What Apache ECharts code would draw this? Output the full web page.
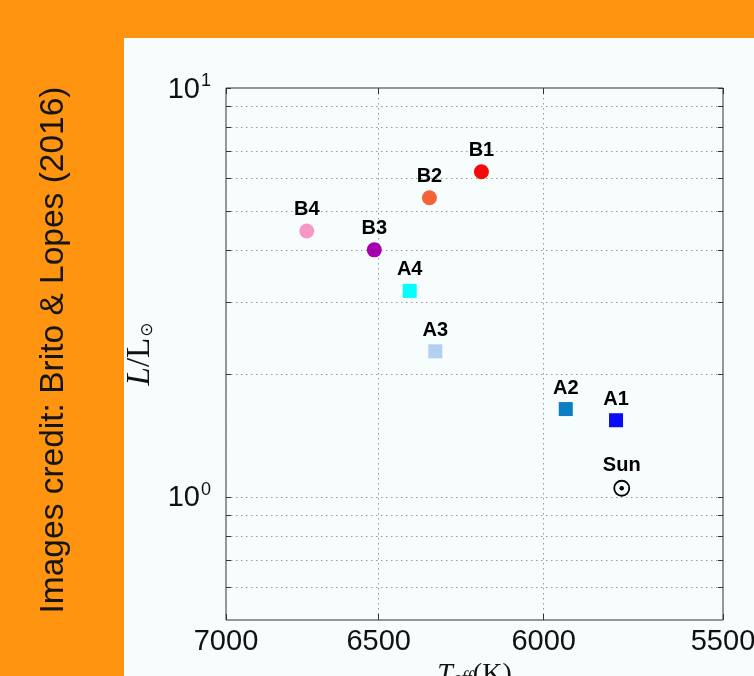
<!DOCTYPE html>
<html>
<head>
<meta charset="utf-8">
<script src="https://cdn.jsdelivr.net/npm/echarts@6/dist/echarts.min.js"></script>
<style>
  html, body { margin: 0; padding: 0; background: #fe9410; }
  #chart { width: 754px; height: 676px; }
</style>
</head>
<body>
<div id="chart"></div>
<script>
// Stars in the HR-diagram: name, effective temperature (K), luminosity (L/Lsun)
const starNames  = ['A1', 'A2', 'A3', 'A4', 'B1', 'B2', 'B3', 'B4'];
const starTeff   = [5793, 5936, 6324, 6403, 6184, 6342, 6514, 6731];
const starLum    = [1.54, 1.64, 2.27, 3.19, 6.24, 5.39, 4.02, 4.47];
const starColors = ['#0a0af5', '#0a7fc4', '#b2d0f0', '#00ffff', '#f50a0a', '#f5623a', '#a400b0', '#f598c6'];
const starShapes = ['rect', 'rect', 'rect', 'rect', 'circle', 'circle', 'circle', 'circle'];

// The Sun as reference point
const sunName = ['Sun'];
const sunTeff = [5777];
const sunLum  = [1.05];

// Axis ticks
const teffTicks     = [7000, 6500, 6000, 5500];
const lumLabelTicks = [1, 10];
const lumTicks      = [0.6, 0.7, 0.8, 0.9, 1, 2, 3, 4, 5, 6, 7, 8, 9, 10];

const chart = echarts.init(document.getElementById('chart'));

const sansFont  = 'Liberation Sans, Arial, sans-serif';
const serifFont = 'Liberation Serif, Times New Roman, serif';
const gridLine  = { show: true, lineStyle: { color: '#9a9a9a', width: 1, type: [1.5, 3.5] } };

const starData = starNames.map((n, i) => ({
  name: n,
  value: [starTeff[i], starLum[i]],
  symbol: starShapes[i],
  symbolSize: starShapes[i] === 'rect' ? 14 : 15,
  itemStyle: { color: starColors[i], opacity: 1 }
}));
const sunData = sunName.map((n, i) => ({ name: n, value: [sunTeff[i], sunLum[i]] }));

const pointLabel = {
  show: true,
  position: 'top',
  distance: 4,
  formatter: '{b}',
  fontFamily: sansFont,
  fontSize: 20,
  fontWeight: 'bold',
  color: '#000',
  opacity: 1
};

chart.setOption({
  backgroundColor: '#fe9410',
  animation: false,
  graphic: [
    {
      type: 'rect',
      z: -10,
      shape: { x: 124, y: 38, width: 630, height: 638 },
      style: { fill: '#f7fcfc' }
    },
    {
      type: 'text',
      x: 54,
      y: 350,
      rotation: Math.PI / 2,
      style: {
        text: 'Images credit: Brito & Lopes (2016)',
        fontFamily: sansFont,
        fontSize: 33.5,
        fill: '#151515',
        align: 'center',
        verticalAlign: 'middle',
        textAlign: 'center',
        textVerticalAlign: 'middle'
      }
    }
  ],
  grid: {
    left: 226, right: 31, top: 88, bottom: 56,
    outerBoundsMode: 'none',
    containLabel: false,
    show: true, borderColor: '#333', borderWidth: 1, backgroundColor: 'transparent'
  },
  xAxis: [
    {
      type: 'log', logBase: 10, inverse: true, min: 5500, max: 7000,
      position: 'bottom',
      axisLine: { show: false },
      axisTick: { show: true, inside: true, length: 6, customValues: teffTicks, lineStyle: { color: '#333' } },
      axisLabel: {
        customValues: teffTicks, margin: 7,
        fontFamily: sansFont, fontSize: 29, color: '#111',
        formatter: v => String(Math.round(v))
      },
      splitLine: gridLine,
      name: '{i|T}{s|eff}{r|(K)}',
      nameLocation: 'middle',
      nameGap: 32,
      nameTextStyle: {
        color: '#111',
        rich: {
          i: { fontFamily: serifFont, fontStyle: 'italic', fontSize: 28, lineHeight: 30, color: '#111' },
          s: { fontFamily: serifFont, fontStyle: 'italic', fontSize: 19, padding: [8, 1, 0, 0], color: '#111' },
          r: { fontFamily: serifFont, fontSize: 28, lineHeight: 30, color: '#111' }
        }
      }
    },
    {
      type: 'log', logBase: 10, inverse: true, min: 5500, max: 7000,
      position: 'top',
      axisLine: { show: false },
      axisTick: { show: true, inside: true, length: 6, customValues: teffTicks, lineStyle: { color: '#333' } },
      axisLabel: { show: false },
      splitLine: { show: false }
    }
  ],
  yAxis: [
    {
      type: 'log', logBase: 10, min: 0.5, max: 10,
      position: 'left',
      axisLine: { show: false },
      axisTick: { show: true, inside: true, length: 5, customValues: lumTicks, lineStyle: { color: '#333' } },
      axisLabel: {
        customValues: lumLabelTicks, margin: 15,
        formatter: v => '{b|10}{s|' + Math.round(Math.log10(v)) + '}',
        rich: {
          b: { fontFamily: sansFont, fontSize: 29, lineHeight: 30, color: '#111', verticalAlign: 'bottom' },
          s: { fontFamily: sansFont, fontSize: 18, padding: [0, 0, 14, 1], color: '#111', verticalAlign: 'top' }
        }
      },
      splitLine: gridLine,
      name: '{i|L}{r|/L}{s|⊙}',
      nameLocation: 'middle',
      nameGap: 57,
      nameRotate: 90,
      nameTextStyle: {
        color: '#111',
        rich: {
          i: { fontFamily: serifFont, fontStyle: 'italic', fontSize: 33, lineHeight: 33, color: '#111' },
          r: { fontFamily: serifFont, fontSize: 33, lineHeight: 33, color: '#111' },
          s: { fontFamily: 'DejaVu Sans', fontSize: 17, padding: [14, 0, 0, 1], color: '#111' }
        }
      }
    },
    {
      type: 'log', logBase: 10, min: 0.5, max: 10,
      position: 'right',
      axisLine: { show: false },
      axisTick: { show: true, inside: true, length: 5, customValues: lumTicks, lineStyle: { color: '#333' } },
      axisLabel: { show: false },
      splitLine: { show: false }
    }
  ],
  series: [
    {
      name: 'stars',
      type: 'scatter',
      xAxisIndex: 0, yAxisIndex: 0,
      data: starData,
      itemStyle: { opacity: 1 },
      label: pointLabel,
      z: 3
    },
    {
      name: 'Sun',
      type: 'scatter',
      xAxisIndex: 0, yAxisIndex: 0,
      data: sunData,
      symbol: 'circle',
      symbolSize: 15,
      itemStyle: { color: 'rgba(0,0,0,0)', borderColor: '#000', borderWidth: 1.8, opacity: 1 },
      label: pointLabel,
      z: 3
    },
    {
      name: 'Sun centre',
      type: 'scatter',
      xAxisIndex: 0, yAxisIndex: 0,
      data: sunData,
      symbol: 'circle',
      symbolSize: 4.5,
      itemStyle: { color: '#000', opacity: 1 },
      z: 4
    }
  ]
});
</script>
</body>
</html>
